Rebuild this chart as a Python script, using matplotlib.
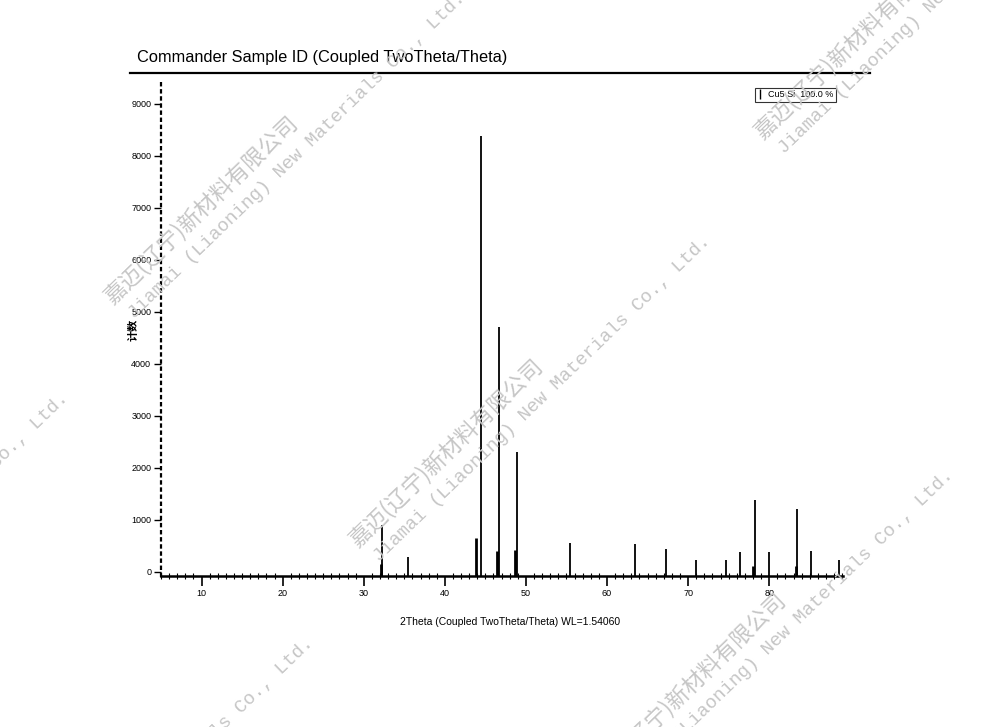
import numpy as np
import matplotlib.pyplot as plt
from matplotlib.lines import Line2D

# peak positions (2theta) and counts
peak_pos = [32.3, 35.5, 44.4, 46.7, 48.85, 55.4, 63.4, 67.3, 71.0, 74.7,
            76.4, 78.2, 80.0, 83.4, 85.2, 88.6]
peak_int = [900, 290, 8380, 4710, 2300, 560, 530, 440, 230, 230,
            380, 1380, 380, 1210, 400, 230]

# broad little bumps at the foot of some peaks
shoulder_pos = [32.1, 43.9, 46.4, 48.6, 78.0, 83.3]
shoulder_int = [150, 650, 400, 420, 110, 110]

x_ticks = [10, 20, 30, 40, 50, 60, 70, 80]
y_ticks = [0, 1000, 2000, 3000, 4000, 5000, 6000, 7000, 8000, 9000]

title = 'Commander Sample ID (Coupled TwoTheta/Theta)'
xlabel = '2Theta (Coupled TwoTheta/Theta) WL=1.54060'
ylabel = '计数'
legend_label = 'Cu5 Si  100.0 %'

wm_cn = '嘉迈(辽宁)新材料有限公司'
wm_en = 'Jiamai (Liaoning) New Materials Co., Ltd.'
# watermark anchors, pixel coords from top-left
wm_x = [112, 357, 600, 762, -285, -40]
wm_y = [305, 548, 782, 140, 705, 950]

font = ['Liberation Sans', 'DejaVu Sans']

fig = plt.figure(figsize=(10, 7.27), dpi=100)
W, H = 1000, 727

base = -70
ax = fig.add_axes([0.161, 1 - 575.6 / H, 0.682, (575.6 - 83) / H])
ax.set_xlim(5, 89.1)
ax.set_ylim(base, 9400)

#peaks as sticks
ax.vlines(shoulder_pos, base, shoulder_int, color='black', lw=2.0)
ax.vlines(peak_pos, base, peak_int, color='black', lw=1.3)

#spines
for s in ['top', 'right']:
    ax.spines[s].set_visible(False)
ax.spines['left'].set_linestyle((0, (1, 2.2)))
ax.spines['left'].set_linewidth(1.6)
ax.spines['bottom'].set_linewidth(1.8)

ax.set_xticks(x_ticks)
ax.set_xticks(np.arange(5, 90, 1), minor=True)
ax.set_yticks(y_ticks)
ax.tick_params(axis='x', which='major', direction='out', length=7, width=1.2,
               labelsize=6.5, pad=3)
ax.tick_params(axis='x', which='minor', direction='inout', length=5, width=0.8)
ax.tick_params(axis='y', which='major', direction='out', length=5, width=1.0,
               labelsize=6.5, pad=2)
for lab in ax.get_xticklabels() + ax.get_yticklabels():
    lab.set_family(font)

#legend box in the corner
h = Line2D([], [], marker='|', linestyle='none', color='black', markersize=7)
leg = ax.legend([h], [legend_label], loc='upper right', bbox_to_anchor=(0.997, 1.0),
                frameon=True, fancybox=False, handlelength=0.6,
                handletextpad=0.6, borderpad=0.3, prop={'family': font, 'size': 6.5})
leg.get_frame().set_edgecolor('black')
leg.get_frame().set_linewidth(0.8)

#title and line under it
fig.text(137 / W, 1 - 62 / H, title, fontsize=11.8, family=font, va='baseline')
fig.add_artist(Line2D([130 / W, 870 / W], [1 - 72.5 / H, 1 - 72.5 / H],
                      color='black', lw=1.6))

fig.text(510 / W, 1 - 622 / H, xlabel, fontsize=7.5, family=font,
         ha='center', va='center')
fig.text(133 / W, 1 - 330 / H, ylabel, fontsize=8, rotation=90, weight='bold',
         family=['Noto Sans CJK SC', 'DejaVu Sans'], ha='center', va='center')

#watermarks
ang = 44
off = np.array([np.sin(np.radians(ang)), -np.cos(np.radians(ang))]) * 20
for px, py in zip(wm_x, wm_y):
    fig.text(px / W, 1 - py / H, wm_cn, fontsize=16, rotation=ang,
             rotation_mode='anchor', color='#c6c6c6',
             family=['Noto Sans CJK SC', 'DejaVu Sans'])
    fig.text((px + 8 + off[0]) / W, 1 - (py - off[1]) / H, wm_en, fontsize=13.5,
             rotation=ang, rotation_mode='anchor', color='#c6c6c6',
             family=['Liberation Mono', 'DejaVu Sans Mono'])

fig.savefig('out.png', dpi=100)
